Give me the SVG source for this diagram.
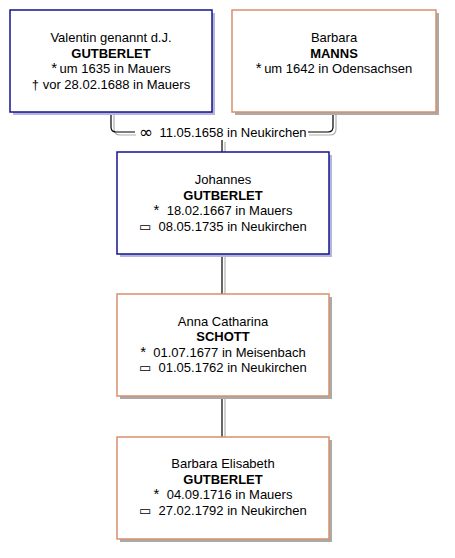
<svg xmlns="http://www.w3.org/2000/svg" width="455" height="558" viewBox="0 0 455 558">
<style>
text{font-family:"Liberation Sans",Arial,sans-serif;font-size:13px;fill:#000;text-anchor:middle}
.b{font-weight:bold}
.sym{font-family:"DejaVu Sans",sans-serif;font-size:17px}
.st{font-size:15px}
.m{fill:#fff;stroke:#14148c;stroke-width:1.5}
.f{fill:#fff;stroke:#d8906c;stroke-width:1.5}
.ms{fill:#b4b4dc}
.fs{fill:#aaaaaa}
.ln{fill:none;stroke:#000;stroke-width:1.2}
.sh{fill:none;stroke:#b0b0b0;stroke-width:1.2}
</style>
<rect width="455" height="558" fill="#fff"/>
<g id="connectors">
<path class="sh" d="M114,113 V129 Q114,135 120,135 H136"/>
<path class="ln" d="M111,113 V127 Q111,132 116,132 H135"/>
<path class="sh" d="M309,135 H330 Q336,135 336,129 V113"/>
<path class="ln" d="M308,132 H328 Q333,132 333,127 V113"/>
<path class="sh" d="M225,142 V152"/>
<path class="ln" d="M222,140 V152"/>
<path class="sh" d="M225,257 V294"/>
<path class="ln" d="M222,255 V294"/>
<path class="sh" d="M225,399 V437"/>
<path class="ln" d="M222,397 V437"/>
<text x="146" y="137.5" class="sym">∞</text>
<text x="233" y="137">11.05.1658 in Neukirchen</text>
</g>
<g id="valentin">
<rect class="ms" x="13" y="13" width="202" height="102"/>
<rect class="m" x="10" y="10" width="202" height="102"/>
<text x="111" y="42">Valentin genannt d.J.</text>
<text x="111" y="57.5" class="b">GUTBERLET</text>
<text x="111" y="73"><tspan class="st">*</tspan>&#8201;um 1635 in Mauers</text>
<text x="111" y="88.5">† vor 28.02.1688 in Mauers</text>
</g>
<g id="barbara_manns">
<rect class="fs" x="235" y="13" width="204" height="102"/>
<rect class="f" x="232" y="10" width="204" height="102"/>
<text x="334" y="42">Barbara</text>
<text x="334" y="57.5" class="b">MANNS</text>
<text x="334" y="73"><tspan class="st">*</tspan>&#8201;um 1642 in Odensachsen</text>
</g>
<g id="johannes">
<rect class="ms" x="120" y="155" width="212" height="102"/>
<rect class="m" x="117" y="152" width="212" height="102"/>
<text x="223" y="184">Johannes</text>
<text x="223" y="199.5" class="b">GUTBERLET</text>
<text x="223" y="215"><tspan class="st">*</tspan>&#160; 18.02.1667 in Mauers</text>
<text x="223" y="230.5">▭&#160; 08.05.1735 in Neukirchen</text>
</g>
<g id="anna_catharina">
<rect class="fs" x="120" y="297" width="212" height="102"/>
<rect class="f" x="117" y="294" width="212" height="102"/>
<text x="223" y="325.5">Anna Catharina</text>
<text x="223" y="341" class="b">SCHOTT</text>
<text x="223" y="356.5"><tspan class="st">*</tspan>&#160; 01.07.1677 in Meisenbach</text>
<text x="223" y="372">▭&#160; 01.05.1762 in Neukirchen</text>
</g>
<g id="barbara_elisabeth">
<rect class="fs" x="120" y="440" width="212" height="102"/>
<rect class="f" x="117" y="437" width="212" height="102"/>
<text x="223" y="468">Barbara Elisabeth</text>
<text x="223" y="483.5" class="b">GUTBERLET</text>
<text x="223" y="499"><tspan class="st">*</tspan>&#160; 04.09.1716 in Mauers</text>
<text x="223" y="514.5">▭&#160; 27.02.1792 in Neukirchen</text>
</g>
</svg>
